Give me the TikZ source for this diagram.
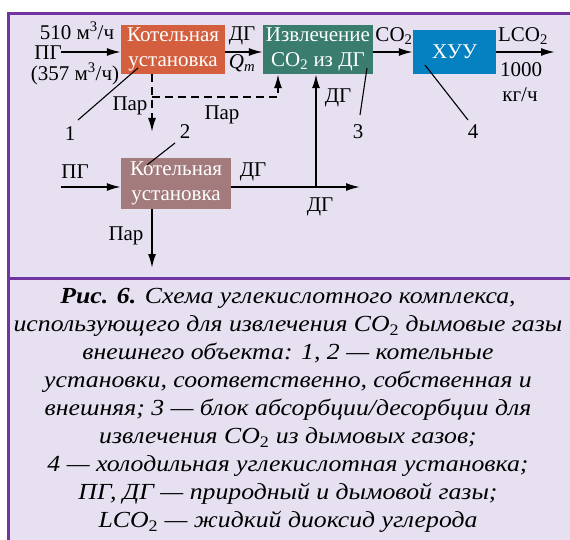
\documentclass[tikz,border=0pt]{standalone}
\usepackage{fontspec}
\setmainfont{Liberation Serif}
\newfontfamily\capfont[FakeStretch=1.12]{Liberation Serif}
\usetikzlibrary{arrows.meta}
\definecolor{bgc}{HTML}{E6E0F0}
\definecolor{framec}{HTML}{7035A0}
\definecolor{cA}{HTML}{D45F3F}
\definecolor{cB}{HTML}{A37B7D}
\definecolor{cC}{HTML}{3A7D6F}
\definecolor{cD}{HTML}{0580C0}
\newcommand{\subtwo}{\textsubscript{\upshape 2}}
\tikzset{
  boxn/.style={fill=#1, text=white, inner sep=0pt, align=center, font=\fontsize{21}{25}\selectfont},
  arr/.style={line width=1.8pt, -{Latex[length=14pt,width=8pt]}},
  lbl/.style={font=\fontsize{21}{24}\selectfont, inner sep=0pt},
  lead/.style={line width=1.1pt},
  dsh/.style={dash pattern=on 8pt off 5pt}
}
\begin{document}
\begin{tikzpicture}[x=1pt,y=-1pt]
\useasboundingbox (0,0) rectangle (570,540);
\fill[bgc] (8.5,13.5) rectangle (570,540);
\draw[framec, line width=3pt] (8.5,540) -- (8.5,13.5) -- (570,13.5);
\draw[framec, line width=3pt] (8.5,278) -- (570,278);

% boxes
\node[boxn=cA, minimum width=104pt, minimum height=49pt] (b1) at (173,49.5) {Котельная\\установка};
\node[boxn=cC, minimum width=110pt, minimum height=49pt] (b3) at (318,49.5) {Извлечение\\CO\textsubscript{2} из ДГ};
\node[boxn=cD, minimum width=83pt, minimum height=44pt] (b4) at (454.5,52) {ХУУ};
\node[boxn=cB, minimum width=110pt, minimum height=51pt] (b2) at (176,183.5) {Котельная\\установка};

% coordinates
\coordinate (pgA) at (61,52);
\coordinate (outA) at (555,52);
\coordinate (sA) at (152,74);
\coordinate (parA) at (152,132);
\coordinate (dA) at (152,97);
\coordinate (dB) at (278,97);
\coordinate (pgB) at (61,187);
\coordinate (dgEnd) at (360,187);
\coordinate (dgJ) at (316,187);
\coordinate (parB) at (152,268);

% top flow
\draw[arr] (pgA) -- (pgA -| b1.west);
\draw[arr] (b1.east |- pgA) -- (b3.west |- pgA);
\draw[arr] (b3.east |- pgA) -- (b4.west |- pgA);
\draw[arr] (b4.east |- pgA) -- (outA);

% steam dashed
\draw[arr, dsh] (sA) -- (parA);
\draw[arr, dsh] (dA) -- (dB) -- (dB |- b3.south);

% lower flow
\draw[arr] (pgB) -- (pgB -| b2.west);
\draw[arr] (b2.east |- dgJ) -- (dgEnd);
\draw[arr] (dgJ) -- (dgJ |- b3.south);
\draw[arr] (parB |- b2.south) -- (parB);

% labels
\node[lbl] (t510) at (77,31) {510 м\textsuperscript{3}/ч};
\node[lbl] (tpg) at (48,53) {ПГ};
\node[lbl] (t357) at (75,74) {(357 м\textsuperscript{3}/ч)};
\node[lbl] (tdg1) at (242,36) {ДГ};
\node[lbl] (tq) at (242,63) {\textit{Q}\textsubscript{\textit{т}}};
\node[lbl] (tco) at (394,36) {CO\textsubscript{2}};
\node[lbl] (tlco) at (523,36) {LCO\textsubscript{2}};
\node[lbl] (t1000) at (521,70) {1000};
\node[lbl] (tkg) at (520,95) {кг/ч};
\node[lbl] (tpar1) at (130,106) {Пар};
\node[lbl] (tpar2) at (222,115) {Пар};
\node[lbl] (tdg3) at (338,98) {ДГ};
\node[lbl] (tpg2) at (75,172) {ПГ};
\node[lbl] (tdg2) at (253,172) {ДГ};
\node[lbl] (tdg4) at (320,207) {ДГ};
\node[lbl] (tpar3) at (126,236) {Пар};

% numbers and leaders
\node[lbl] (n1) at (70,134) {1};
\node[lbl] (n2) at (185,132) {2};
\node[lbl] (n3) at (358,132) {3};
\node[lbl] (n4) at (473,132) {4};
\coordinate (l1) at (138,68);
\coordinate (l2) at (147,165);
\coordinate (l3) at (367,68);
\coordinate (l4) at (425,65);
\draw[lead] (78,120) -- (l1);
\draw[lead] (175,143) -- (l2);
\draw[lead] (360,115) -- (l3);
\draw[lead] (468,120) -- (l4);

% caption
\node[anchor=north, align=center, inner sep=0pt, font=\fontsize{23}{28}\capfont\itshape] (cap) at (288,288)
{\textbf{Рис. 6.} Схема углекислотного комплекса,\\
использующего для извлечения CO\subtwo{} дымовые газы\\
внешнего объекта: 1, 2 — котельные\\
установки, соответственно, собственная и\\
внешняя; 3 — блок абсорбции/десорбции для\\
извлечения CO\subtwo{} из дымовых газов;\\
4 — холодильная углекислотная установка;\\
ПГ, ДГ — природный и дымовой газы;\\
LCO\subtwo{} — жидкий диоксид углерода};
\end{tikzpicture}
\end{document}
